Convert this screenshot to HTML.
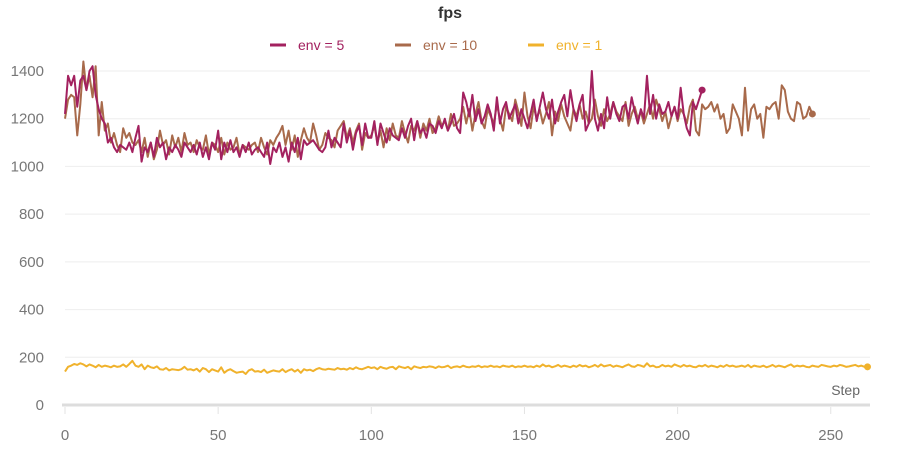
<!DOCTYPE html>
<html><head><meta charset="utf-8"><style>
body{margin:0;background:#fff;font-family:"Liberation Sans",sans-serif}
svg text{font-family:"Liberation Sans",sans-serif}
</style></head><body>
<svg id="chart" width="900" height="450">
<text x="450" y="18" text-anchor="middle" font-size="16" font-weight="bold" fill="#333">fps</text>
<g id="legend">
<g><line x1="270" y1="45" x2="286" y2="45" stroke="#a3215f" stroke-width="3"/><text x="298" y="50" font-size="14" fill="#a3215f">env = 5</text></g>
<g><line x1="395" y1="45" x2="411" y2="45" stroke="#a86a4b" stroke-width="3"/><text x="423" y="50" font-size="14" fill="#a86a4b">env = 10</text></g>
<g><line x1="528" y1="45" x2="544" y2="45" stroke="#f0b22c" stroke-width="3"/><text x="556" y="50" font-size="14" fill="#f0b22c">env = 1</text></g>
</g>
<g id="grid"></g><g id="axes"></g><g id="series"></g>
<text x="860" y="395" text-anchor="end" font-size="14" fill="#666">Step</text>
</svg>
<script>
const yTicks=[0,200,400,600,800,1000,1200,1400];
const xTicks=[0,50,100,150,200,250];
const env5=[1220,1380,1340,1380,1250,1360,1380,1320,1400,1420,
1300,1240,1200,1180,1100,1120,1080,1060,1090,1080,
1070,1100,1060,1120,1170,1020,1080,1060,1100,1040,
1120,1080,1100,1030,1080,1060,1090,1070,1040,1100,
1080,1060,1090,1050,1100,1040,1080,1030,1100,1070,
1150,1030,1100,1060,1110,1060,1080,1040,1090,1060,
1100,1050,1070,1080,1060,1040,1100,1010,1080,1060,
1100,1040,1080,1020,1100,1060,1120,1030,1110,1090,
1100,1110,1090,1070,1060,1080,1150,1080,1120,1100,
1080,1180,1100,1150,1070,1140,1170,1090,1180,1120,
1120,1190,1090,1180,1140,1100,1160,1130,1120,1110,
1160,1120,1170,1200,1110,1190,1140,1160,1120,1180,
1170,1140,1190,1160,1200,1150,1180,1220,1160,1140,
1310,1270,1210,1300,1190,1240,1180,1210,1260,1220,
1150,1290,1180,1240,1270,1200,1230,1260,1180,1240,
1200,1160,1220,1280,1190,1250,1310,1240,1200,1280,
1180,1230,1270,1300,1210,1320,1240,1190,1260,1300,
1150,1180,1400,1200,1150,1220,1160,1290,1200,1270,
1220,1190,1250,1260,1200,1290,1230,1180,1240,1200,
1380,1220,1300,1200,1260,1220,1230,1270,1210,1250,
1200,1330,1220,1160,1130,1270,1240,1280,1320];
const env10=[1200,1280,1300,1290,1130,1260,1440,1320,1380,1290,
1420,1130,1270,1150,1180,1100,1140,1090,1060,1160,
1120,1140,1100,1090,1110,1060,1120,1040,1100,1030,
1070,1150,1090,1110,1050,1130,1080,1120,1060,1140,
1090,1100,1060,1110,1080,1070,1130,1050,1100,1090,
1060,1120,1050,1100,1070,1080,1120,1050,1090,1080,
1070,1090,1100,1060,1120,1080,1050,1110,1090,1120,
1140,1170,1090,1150,1070,1130,1040,1110,1160,1120,
1100,1180,1130,1070,1090,1140,1120,1110,1080,1150,
1170,1190,1120,1160,1100,1150,1180,1070,1140,1120,
1130,1170,1100,1150,1080,1160,1110,1180,1130,1120,
1190,1140,1100,1170,1150,1190,1120,1180,1150,1200,
1140,1160,1210,1170,1190,1150,1220,1170,1180,1200,
1250,1180,1240,1150,1220,1270,1190,1160,1240,1210,
1180,1260,1200,1150,1250,1220,1190,1280,1230,1170,
1310,1210,1160,1250,1200,1240,1180,1220,1270,1130,
1230,1190,1260,1210,1180,1150,1240,1210,1260,1200,
1230,1180,1200,1280,1210,1170,1240,1190,1220,1270,
1230,1210,1190,1270,1170,1220,1250,1200,1230,1180,
1220,1260,1200,1280,1240,1190,1230,1160,1210,1250,
1190,1240,1220,1180,1250,1280,1150,1130,1260,1240,
1250,1270,1230,1260,1200,1220,1140,1160,1260,1230,
1200,1130,1330,1150,1240,1260,1200,1220,1120,1250,
1240,1260,1270,1200,1340,1320,1230,1200,1190,1270,
1260,1200,1210,1250,1220];
const env1=[140,160,165,172,168,175,170,162,170,165,
158,168,160,165,162,158,165,160,162,170,
160,172,185,165,160,170,150,165,158,155,
162,150,148,155,145,150,148,146,150,160,
148,150,145,152,140,155,150,138,150,145,
140,158,135,145,150,142,135,138,140,130,
145,150,140,142,138,148,135,140,145,142,
140,150,138,145,150,140,148,135,150,145,
148,142,150,155,150,148,152,150,148,155,
150,152,148,155,150,158,152,150,155,160,
155,158,150,160,155,152,158,160,150,162,
158,155,160,150,162,158,155,160,158,162,
160,155,162,158,160,165,155,160,162,158,
165,160,158,162,160,165,158,162,160,165,
160,162,158,165,162,160,165,158,162,160,
165,160,162,158,165,160,170,162,165,158,
162,168,160,165,162,158,165,160,168,162,
165,158,162,168,160,170,162,165,168,160,
165,162,158,165,170,162,160,168,165,160,
175,162,165,158,160,168,162,165,160,170,
165,160,168,162,165,160,158,165,162,168,
160,165,162,158,165,160,168,162,165,160,
162,165,160,168,158,165,162,160,165,158,
162,168,160,165,162,158,165,170,160,165,
162,165,160,158,165,162,160,168,165,162,
160,165,162,168,165,160,162,165,168,162,
165,160,160];
const NS='http://www.w3.org/2000/svg';
const X0=65,XS=3.063,Y0=405,YS=334/1400;
const xs=s=>X0+s*XS, ys=v=>Y0-v*YS;
function mk(t,a,p){const e=document.createElementNS(NS,t);for(const k in a)e.setAttribute(k,a[k]);p.appendChild(e);return e;}
const grid=document.getElementById('grid'),axes=document.getElementById('axes'),ser=document.getElementById('series');
yTicks.forEach(v=>{
 if(v>0){const l=mk('line',{x1:65,x2:870,y1:ys(v),y2:ys(v),stroke:'#eeeeee','stroke-width':1},grid);
 
 }
 const t=mk('text',{x:44,y:ys(v)+5,'text-anchor':'end','font-size':15,fill:'#777'},axes);t.textContent=v;
 
 
});
const ax=mk('line',{x1:62,x2:870,y1:405,y2:405,stroke:'#dddddd','stroke-width':3},axes);


xTicks.forEach(v=>{
 const l=mk('line',{x1:xs(v),x2:xs(v),y1:407,y2:414,stroke:'#e3e3e3','stroke-width':1},axes);
 
 
 const t=mk('text',{x:xs(v),y:440,'text-anchor':'middle','font-size':15,fill:'#777'},axes);t.textContent=v;
 
 
});
function draw(d,c,name){
 const p=mk('polyline',{points:d.map((v,i)=>xs(i)+','+ys(v)).join(' '),fill:'none',stroke:c,'stroke-width':2,'stroke-linejoin':'round'},ser);
 
 
 const n=d.length-1;
 const m=mk('circle',{cx:xs(n),cy:ys(d[n]),r:3.5,fill:c},ser);
 
 
}
draw(env10,'#a86a4b','env10');
draw(env5,'#a3215f','env5');
draw(env1,'#f0b22c','env1');
</script>
</body></html>
